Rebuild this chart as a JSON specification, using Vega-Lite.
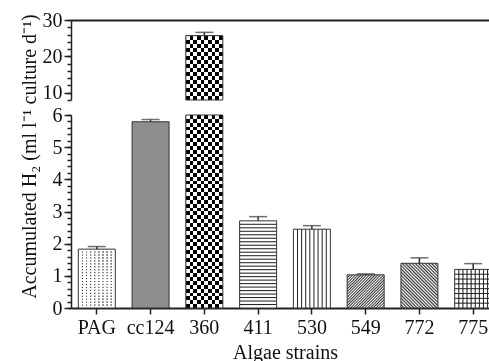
{
  "$schema": "https://vega.github.io/schema/vega-lite/v6.json",
  "autosize": {"type": "pad"},
  "padding": {"left": 18, "top": 10, "right": 0, "bottom": 0},
  "background": "white",
  "datasets": {
    "bars": [
      {"strain": "PAG", "value": 1.83, "upper": 1.91},
      {"strain": "cc124", "value": 5.79, "upper": 5.86},
      {"strain": "360", "value": 25.7, "upper": 26.6},
      {"strain": "411", "value": 2.71, "upper": 2.84},
      {"strain": "530", "value": 2.45, "upper": 2.56},
      {"strain": "549", "value": 1.03, "upper": 1.06},
      {"strain": "772", "value": 1.39, "upper": 1.56},
      {"strain": "775", "value": 1.2, "upper": 1.38}
    ],
    "caps": [
      {"strain": "PAG", "value": 1.91},
      {"strain": "cc124", "value": 5.86},
      {"strain": "360", "value": 26.6},
      {"strain": "411", "value": 2.84},
      {"strain": "530", "value": 2.56},
      {"strain": "549", "value": 1.06},
      {"strain": "772", "value": 1.56},
      {"strain": "775", "value": 1.38}
    ]
  },
  "data": {"name": "bars"},
  "spacing": 15,
  "bounds": "flush",
  "vconcat": [
    {
      "width": 428,
      "height": 80,
      "resolve": {"axis": {"y": "independent"}},
      "encoding": {
        "x": {"field": "strain", "type": "nominal", "sort": null,
          "scale": {"domain": ["PAG","cc124","360","411","530","549","772","775"], "paddingInner": 0.312, "paddingOuter": 0.136},
          "axis": {"orient": "top", "labels": false, "ticks": false, "title": null, "domainWidth": 2}},
        "y": {"field": "value", "type": "quantitative",
          "scale": {"domain": [8, 30], "clamp": true, "nice": false, "zero": false}, "axis": null}
      },
      "layer": [
        {"transform": [{"filter": "datum.value > 8"}],
          "mark": {"type": "bar", "fill": {"gradient": "linear", "x1": 0, "y1": 0, "x2": 1, "y2": 0, "stops": [
          {"offset":0,"color":"#000"},{"offset":0.1,"color":"#000"},{"offset":0.1,"color":"#fff"},{"offset":0.2,"color":"#fff"},
          {"offset":0.2,"color":"#000"},{"offset":0.3,"color":"#000"},{"offset":0.3,"color":"#fff"},{"offset":0.4,"color":"#fff"},
          {"offset":0.4,"color":"#000"},{"offset":0.5,"color":"#000"},{"offset":0.5,"color":"#fff"},{"offset":0.6,"color":"#fff"},
          {"offset":0.6,"color":"#000"},{"offset":0.7,"color":"#000"},{"offset":0.7,"color":"#fff"},{"offset":0.8,"color":"#fff"},
          {"offset":0.8,"color":"#000"},{"offset":0.9,"color":"#000"},{"offset":0.9,"color":"#fff"},{"offset":1,"color":"#fff"}]}},
          "encoding": {"y": {"field": "value", "type": "quantitative",
            "scale": {"domain": [8, 30], "clamp": true, "nice": false, "zero": false},
            "axis": {"title": null, "orient": "left", "tickCount": 2, "format": "d", "tickSize": 7, "grid": false, "labelPadding": 2, "labelFlush": false}}}},
        {"transform": [{"filter": "datum.value > 8"}],
          "mark": {"type": "bar", "blend": "difference", "fill": {"gradient": "linear", "x1": 0, "y1": 0, "x2": 0, "y2": 1, "stops": [
          {"offset":0,"color":"#fff"},{"offset":0.0625,"color":"#fff"},{"offset":0.0625,"color":"rgba(255,255,255,0)"},{"offset":0.125,"color":"rgba(255,255,255,0)"},
          {"offset":0.125,"color":"#fff"},{"offset":0.1875,"color":"#fff"},{"offset":0.1875,"color":"rgba(255,255,255,0)"},{"offset":0.25,"color":"rgba(255,255,255,0)"},
          {"offset":0.25,"color":"#fff"},{"offset":0.3125,"color":"#fff"},{"offset":0.3125,"color":"rgba(255,255,255,0)"},{"offset":0.375,"color":"rgba(255,255,255,0)"},
          {"offset":0.375,"color":"#fff"},{"offset":0.4375,"color":"#fff"},{"offset":0.4375,"color":"rgba(255,255,255,0)"},{"offset":0.5,"color":"rgba(255,255,255,0)"},
          {"offset":0.5,"color":"#fff"},{"offset":0.5625,"color":"#fff"},{"offset":0.5625,"color":"rgba(255,255,255,0)"},{"offset":0.625,"color":"rgba(255,255,255,0)"},
          {"offset":0.625,"color":"#fff"},{"offset":0.6875,"color":"#fff"},{"offset":0.6875,"color":"rgba(255,255,255,0)"},{"offset":0.75,"color":"rgba(255,255,255,0)"},
          {"offset":0.75,"color":"#fff"},{"offset":0.8125,"color":"#fff"},{"offset":0.8125,"color":"rgba(255,255,255,0)"},{"offset":0.875,"color":"rgba(255,255,255,0)"},
          {"offset":0.875,"color":"#fff"},{"offset":0.9375,"color":"#fff"},{"offset":0.9375,"color":"rgba(255,255,255,0)"},{"offset":1,"color":"rgba(255,255,255,0)"}]}}},
        {"transform": [{"filter": "datum.value > 8"}],
          "mark": {"type": "bar", "fillOpacity": 0, "stroke": "#333", "strokeWidth": 1}},
        {"transform": [{"filter": "datum.value > 8"}],
          "mark": {"type": "rule", "color": "#333", "strokeWidth": 1.5}, "encoding": {"y2": {"field": "upper"}}},
        {"data": {"name": "caps"}, "transform": [{"filter": "datum.value > 8"}],
          "mark": {"type": "tick", "color": "#333", "size": 18, "thickness": 1.5},
          "encoding": {"y": {"field": "value", "type": "quantitative",
            "scale": {"domain": [8, 30], "clamp": true, "nice": false, "zero": false},
            "axis": {"title": null, "orient": "left", "tickCount": 11, "labels": false, "domain": false, "tickSize": 4, "grid": false}}}}
      ]
    },
    {
      "width": 428,
      "height": 193,
      "resolve": {"axis": {"y": "independent"}},
      "encoding": {
        "x": {"field": "strain", "type": "nominal", "sort": null,
          "scale": {"domain": ["PAG","cc124","360","411","530","549","772","775"], "paddingInner": 0.312, "paddingOuter": 0.136},
          "axis": {"title": "Algae strains", "labelAngle": 0, "tickSize": 6, "labelPadding": 3, "titlePadding": 5, "domainWidth": 2}},
        "y": {"field": "value", "type": "quantitative",
          "scale": {"domain": [0, 6], "clamp": true, "nice": false}, "axis": null}
      },
      "layer": [
        {"mark": {"type": "bar"},
          "encoding": {
            "y": {"field": "value", "type": "quantitative",
              "scale": {"domain": [0, 6], "clamp": true, "nice": false},
              "axis": {"title": "Accumulated H₂ (ml l⁻¹ culture d⁻¹)", "orient": "left", "tickCount": 6, "format": "d",
                "tickSize": 7, "grid": false, "labelPadding": 2, "labelFlush": false,
                "titleX": -42, "titleY": 41, "titleBaseline": "middle", "titleAngle": -90}},
            "fill": {"condition": [
            {"test": "datum.strain === 'PAG'", "value": {"gradient": "linear", "x1": 0, "y1": 0, "x2": 1, "y2": 0, "stops": [
              {"offset":0,"color":"#fff"},
              {"offset":0.0841,"color":"#fff"},{"offset":0.1111,"color":"#222"},{"offset":0.1381,"color":"#fff"},
              {"offset":0.1952,"color":"#fff"},{"offset":0.2222,"color":"#222"},{"offset":0.2492,"color":"#fff"},
              {"offset":0.3063,"color":"#fff"},{"offset":0.3333,"color":"#222"},{"offset":0.3603,"color":"#fff"},
              {"offset":0.4174,"color":"#fff"},{"offset":0.4444,"color":"#222"},{"offset":0.4714,"color":"#fff"},
              {"offset":0.5286,"color":"#fff"},{"offset":0.5556,"color":"#222"},{"offset":0.5826,"color":"#fff"},
              {"offset":0.6397,"color":"#fff"},{"offset":0.6667,"color":"#222"},{"offset":0.6937,"color":"#fff"},
              {"offset":0.7508,"color":"#fff"},{"offset":0.7778,"color":"#222"},{"offset":0.8048,"color":"#fff"},
              {"offset":0.8619,"color":"#fff"},{"offset":0.8889,"color":"#222"},{"offset":0.9159,"color":"#fff"},
              {"offset":1,"color":"#fff"}]}},
            {"test": "datum.strain === 'cc124'", "value": "#8e8e8e"},
            {"test": "datum.strain === '360'", "value": {"gradient": "linear", "x1": 0, "y1": 0, "x2": 1, "y2": 0, "stops": [
              {"offset":0,"color":"#000"},{"offset":0.1,"color":"#000"},{"offset":0.1,"color":"#fff"},{"offset":0.2,"color":"#fff"},
              {"offset":0.2,"color":"#000"},{"offset":0.3,"color":"#000"},{"offset":0.3,"color":"#fff"},{"offset":0.4,"color":"#fff"},
              {"offset":0.4,"color":"#000"},{"offset":0.5,"color":"#000"},{"offset":0.5,"color":"#fff"},{"offset":0.6,"color":"#fff"},
              {"offset":0.6,"color":"#000"},{"offset":0.7,"color":"#000"},{"offset":0.7,"color":"#fff"},{"offset":0.8,"color":"#fff"},
              {"offset":0.8,"color":"#000"},{"offset":0.9,"color":"#000"},{"offset":0.9,"color":"#fff"},{"offset":1,"color":"#fff"}]}},
            {"test": "datum.strain === '411'", "value": {"gradient": "linear", "x1": 0, "y1": 0, "x2": 0, "y2": 1, "stops": [
              {"offset":0,"color":"#fff"},
              {"offset":0.028,"color":"#fff"},{"offset":0.04,"color":"#222"},{"offset":0.052,"color":"#fff"},
              {"offset":0.068,"color":"#fff"},{"offset":0.08,"color":"#222"},{"offset":0.092,"color":"#fff"},
              {"offset":0.108,"color":"#fff"},{"offset":0.12,"color":"#222"},{"offset":0.132,"color":"#fff"},
              {"offset":0.148,"color":"#fff"},{"offset":0.16,"color":"#222"},{"offset":0.172,"color":"#fff"},
              {"offset":0.188,"color":"#fff"},{"offset":0.2,"color":"#222"},{"offset":0.212,"color":"#fff"},
              {"offset":0.228,"color":"#fff"},{"offset":0.24,"color":"#222"},{"offset":0.252,"color":"#fff"},
              {"offset":0.268,"color":"#fff"},{"offset":0.28,"color":"#222"},{"offset":0.292,"color":"#fff"},
              {"offset":0.308,"color":"#fff"},{"offset":0.32,"color":"#222"},{"offset":0.332,"color":"#fff"},
              {"offset":0.348,"color":"#fff"},{"offset":0.36,"color":"#222"},{"offset":0.372,"color":"#fff"},
              {"offset":0.388,"color":"#fff"},{"offset":0.4,"color":"#222"},{"offset":0.412,"color":"#fff"},
              {"offset":0.428,"color":"#fff"},{"offset":0.44,"color":"#222"},{"offset":0.452,"color":"#fff"},
              {"offset":0.468,"color":"#fff"},{"offset":0.48,"color":"#222"},{"offset":0.492,"color":"#fff"},
              {"offset":0.508,"color":"#fff"},{"offset":0.52,"color":"#222"},{"offset":0.532,"color":"#fff"},
              {"offset":0.548,"color":"#fff"},{"offset":0.56,"color":"#222"},{"offset":0.572,"color":"#fff"},
              {"offset":0.588,"color":"#fff"},{"offset":0.6,"color":"#222"},{"offset":0.612,"color":"#fff"},
              {"offset":0.628,"color":"#fff"},{"offset":0.64,"color":"#222"},{"offset":0.652,"color":"#fff"},
              {"offset":0.668,"color":"#fff"},{"offset":0.68,"color":"#222"},{"offset":0.692,"color":"#fff"},
              {"offset":0.708,"color":"#fff"},{"offset":0.72,"color":"#222"},{"offset":0.732,"color":"#fff"},
              {"offset":0.748,"color":"#fff"},{"offset":0.76,"color":"#222"},{"offset":0.772,"color":"#fff"},
              {"offset":0.788,"color":"#fff"},{"offset":0.8,"color":"#222"},{"offset":0.812,"color":"#fff"},
              {"offset":0.828,"color":"#fff"},{"offset":0.84,"color":"#222"},{"offset":0.852,"color":"#fff"},
              {"offset":0.868,"color":"#fff"},{"offset":0.88,"color":"#222"},{"offset":0.892,"color":"#fff"},
              {"offset":0.908,"color":"#fff"},{"offset":0.92,"color":"#222"},{"offset":0.932,"color":"#fff"},
              {"offset":0.948,"color":"#fff"},{"offset":0.96,"color":"#222"},{"offset":0.972,"color":"#fff"},
              {"offset":1,"color":"#fff"}]}},
            {"test": "datum.strain === '530'", "value": {"gradient": "linear", "x1": 0, "y1": 0, "x2": 1, "y2": 0, "stops": [
              {"offset":0,"color":"#fff"},
              {"offset":0.0841,"color":"#fff"},{"offset":0.1111,"color":"#222"},{"offset":0.1381,"color":"#fff"},
              {"offset":0.1952,"color":"#fff"},{"offset":0.2222,"color":"#222"},{"offset":0.2492,"color":"#fff"},
              {"offset":0.3063,"color":"#fff"},{"offset":0.3333,"color":"#222"},{"offset":0.3603,"color":"#fff"},
              {"offset":0.4174,"color":"#fff"},{"offset":0.4444,"color":"#222"},{"offset":0.4714,"color":"#fff"},
              {"offset":0.5286,"color":"#fff"},{"offset":0.5556,"color":"#222"},{"offset":0.5826,"color":"#fff"},
              {"offset":0.6397,"color":"#fff"},{"offset":0.6667,"color":"#222"},{"offset":0.6937,"color":"#fff"},
              {"offset":0.7508,"color":"#fff"},{"offset":0.7778,"color":"#222"},{"offset":0.8048,"color":"#fff"},
              {"offset":0.8619,"color":"#fff"},{"offset":0.8889,"color":"#222"},{"offset":0.9159,"color":"#fff"},
              {"offset":1,"color":"#fff"}]}},
            {"test": "datum.strain === '549'", "value": {"gradient": "linear", "x1": 0, "y1": 0, "x2": 1.054, "y2": 0.94, "stops": [
              {"offset":0,"color":"#333"},{"offset":0.02,"color":"#fff"},{"offset":0.04,"color":"#333"},{"offset":0.06,"color":"#fff"},
              {"offset":0.08,"color":"#333"},{"offset":0.1,"color":"#fff"},{"offset":0.12,"color":"#333"},{"offset":0.14,"color":"#fff"},
              {"offset":0.16,"color":"#333"},{"offset":0.18,"color":"#fff"},{"offset":0.2,"color":"#333"},{"offset":0.22,"color":"#fff"},
              {"offset":0.24,"color":"#333"},{"offset":0.26,"color":"#fff"},{"offset":0.28,"color":"#333"},{"offset":0.3,"color":"#fff"},
              {"offset":0.32,"color":"#333"},{"offset":0.34,"color":"#fff"},{"offset":0.36,"color":"#333"},{"offset":0.38,"color":"#fff"},
              {"offset":0.4,"color":"#333"},{"offset":0.42,"color":"#fff"},{"offset":0.44,"color":"#333"},{"offset":0.46,"color":"#fff"},
              {"offset":0.48,"color":"#333"},{"offset":0.5,"color":"#fff"},{"offset":0.52,"color":"#333"},{"offset":0.54,"color":"#fff"},
              {"offset":0.56,"color":"#333"},{"offset":0.58,"color":"#fff"},{"offset":0.6,"color":"#333"},{"offset":0.62,"color":"#fff"},
              {"offset":0.64,"color":"#333"},{"offset":0.66,"color":"#fff"},{"offset":0.68,"color":"#333"},{"offset":0.7,"color":"#fff"},
              {"offset":0.72,"color":"#333"},{"offset":0.74,"color":"#fff"},{"offset":0.76,"color":"#333"},{"offset":0.78,"color":"#fff"},
              {"offset":0.8,"color":"#333"},{"offset":0.82,"color":"#fff"},{"offset":0.84,"color":"#333"},{"offset":0.86,"color":"#fff"},
              {"offset":0.88,"color":"#333"},{"offset":0.9,"color":"#fff"},{"offset":0.92,"color":"#333"},{"offset":0.94,"color":"#fff"},
              {"offset":0.96,"color":"#333"},{"offset":0.98,"color":"#fff"},{"offset":1,"color":"#333"}]}},
            {"test": "datum.strain === '772'", "value": {"gradient": "linear", "x1": 0, "y1": 1, "x2": 0.898, "y2": -0.085, "stops": [
              {"offset":0,"color":"#333"},{"offset":0.02,"color":"#fff"},{"offset":0.04,"color":"#333"},{"offset":0.06,"color":"#fff"},
              {"offset":0.08,"color":"#333"},{"offset":0.1,"color":"#fff"},{"offset":0.12,"color":"#333"},{"offset":0.14,"color":"#fff"},
              {"offset":0.16,"color":"#333"},{"offset":0.18,"color":"#fff"},{"offset":0.2,"color":"#333"},{"offset":0.22,"color":"#fff"},
              {"offset":0.24,"color":"#333"},{"offset":0.26,"color":"#fff"},{"offset":0.28,"color":"#333"},{"offset":0.3,"color":"#fff"},
              {"offset":0.32,"color":"#333"},{"offset":0.34,"color":"#fff"},{"offset":0.36,"color":"#333"},{"offset":0.38,"color":"#fff"},
              {"offset":0.4,"color":"#333"},{"offset":0.42,"color":"#fff"},{"offset":0.44,"color":"#333"},{"offset":0.46,"color":"#fff"},
              {"offset":0.48,"color":"#333"},{"offset":0.5,"color":"#fff"},{"offset":0.52,"color":"#333"},{"offset":0.54,"color":"#fff"},
              {"offset":0.56,"color":"#333"},{"offset":0.58,"color":"#fff"},{"offset":0.6,"color":"#333"},{"offset":0.62,"color":"#fff"},
              {"offset":0.64,"color":"#333"},{"offset":0.66,"color":"#fff"},{"offset":0.68,"color":"#333"},{"offset":0.7,"color":"#fff"},
              {"offset":0.72,"color":"#333"},{"offset":0.74,"color":"#fff"},{"offset":0.76,"color":"#333"},{"offset":0.78,"color":"#fff"},
              {"offset":0.8,"color":"#333"},{"offset":0.82,"color":"#fff"},{"offset":0.84,"color":"#333"},{"offset":0.86,"color":"#fff"},
              {"offset":0.88,"color":"#333"},{"offset":0.9,"color":"#fff"},{"offset":0.92,"color":"#333"},{"offset":0.94,"color":"#fff"},
              {"offset":0.96,"color":"#333"},{"offset":0.98,"color":"#fff"},{"offset":1,"color":"#333"}]}},
            {"test": "datum.strain === '775'", "value": {"gradient": "linear", "x1": 0, "y1": 0, "x2": 0, "y2": 1, "stops": [
              {"offset":0,"color":"#fff"},
              {"offset":0.099,"color":"#fff"},{"offset":0.125,"color":"#222"},{"offset":0.151,"color":"#fff"},
              {"offset":0.224,"color":"#fff"},{"offset":0.25,"color":"#222"},{"offset":0.276,"color":"#fff"},
              {"offset":0.349,"color":"#fff"},{"offset":0.375,"color":"#222"},{"offset":0.401,"color":"#fff"},
              {"offset":0.474,"color":"#fff"},{"offset":0.5,"color":"#222"},{"offset":0.526,"color":"#fff"},
              {"offset":0.599,"color":"#fff"},{"offset":0.625,"color":"#222"},{"offset":0.651,"color":"#fff"},
              {"offset":0.724,"color":"#fff"},{"offset":0.75,"color":"#222"},{"offset":0.776,"color":"#fff"},
              {"offset":0.849,"color":"#fff"},{"offset":0.875,"color":"#222"},{"offset":0.901,"color":"#fff"},
              {"offset":1,"color":"#fff"}]}}
          ], "value": "white"}}},
        {"transform": [{"filter": "datum.strain === '360'"}],
          "mark": {"type": "bar", "blend": "difference", "fill": {"gradient": "linear", "x1": 0, "y1": 0, "x2": 0, "y2": 1, "stops": [
            {"offset":0,"color":"#fff"},{"offset":0.02,"color":"#fff"},{"offset":0.02,"color":"rgba(255,255,255,0)"},{"offset":0.04,"color":"rgba(255,255,255,0)"},
            {"offset":0.04,"color":"#fff"},{"offset":0.06,"color":"#fff"},{"offset":0.06,"color":"rgba(255,255,255,0)"},{"offset":0.08,"color":"rgba(255,255,255,0)"},
            {"offset":0.08,"color":"#fff"},{"offset":0.1,"color":"#fff"},{"offset":0.1,"color":"rgba(255,255,255,0)"},{"offset":0.12,"color":"rgba(255,255,255,0)"},
            {"offset":0.12,"color":"#fff"},{"offset":0.14,"color":"#fff"},{"offset":0.14,"color":"rgba(255,255,255,0)"},{"offset":0.16,"color":"rgba(255,255,255,0)"},
            {"offset":0.16,"color":"#fff"},{"offset":0.18,"color":"#fff"},{"offset":0.18,"color":"rgba(255,255,255,0)"},{"offset":0.2,"color":"rgba(255,255,255,0)"},
            {"offset":0.2,"color":"#fff"},{"offset":0.22,"color":"#fff"},{"offset":0.22,"color":"rgba(255,255,255,0)"},{"offset":0.24,"color":"rgba(255,255,255,0)"},
            {"offset":0.24,"color":"#fff"},{"offset":0.26,"color":"#fff"},{"offset":0.26,"color":"rgba(255,255,255,0)"},{"offset":0.28,"color":"rgba(255,255,255,0)"},
            {"offset":0.28,"color":"#fff"},{"offset":0.3,"color":"#fff"},{"offset":0.3,"color":"rgba(255,255,255,0)"},{"offset":0.32,"color":"rgba(255,255,255,0)"},
            {"offset":0.32,"color":"#fff"},{"offset":0.34,"color":"#fff"},{"offset":0.34,"color":"rgba(255,255,255,0)"},{"offset":0.36,"color":"rgba(255,255,255,0)"},
            {"offset":0.36,"color":"#fff"},{"offset":0.38,"color":"#fff"},{"offset":0.38,"color":"rgba(255,255,255,0)"},{"offset":0.4,"color":"rgba(255,255,255,0)"},
            {"offset":0.4,"color":"#fff"},{"offset":0.42,"color":"#fff"},{"offset":0.42,"color":"rgba(255,255,255,0)"},{"offset":0.44,"color":"rgba(255,255,255,0)"},
            {"offset":0.44,"color":"#fff"},{"offset":0.46,"color":"#fff"},{"offset":0.46,"color":"rgba(255,255,255,0)"},{"offset":0.48,"color":"rgba(255,255,255,0)"},
            {"offset":0.48,"color":"#fff"},{"offset":0.5,"color":"#fff"},{"offset":0.5,"color":"rgba(255,255,255,0)"},{"offset":0.52,"color":"rgba(255,255,255,0)"},
            {"offset":0.52,"color":"#fff"},{"offset":0.54,"color":"#fff"},{"offset":0.54,"color":"rgba(255,255,255,0)"},{"offset":0.56,"color":"rgba(255,255,255,0)"},
            {"offset":0.56,"color":"#fff"},{"offset":0.58,"color":"#fff"},{"offset":0.58,"color":"rgba(255,255,255,0)"},{"offset":0.6,"color":"rgba(255,255,255,0)"},
            {"offset":0.6,"color":"#fff"},{"offset":0.62,"color":"#fff"},{"offset":0.62,"color":"rgba(255,255,255,0)"},{"offset":0.64,"color":"rgba(255,255,255,0)"},
            {"offset":0.64,"color":"#fff"},{"offset":0.66,"color":"#fff"},{"offset":0.66,"color":"rgba(255,255,255,0)"},{"offset":0.68,"color":"rgba(255,255,255,0)"},
            {"offset":0.68,"color":"#fff"},{"offset":0.7,"color":"#fff"},{"offset":0.7,"color":"rgba(255,255,255,0)"},{"offset":0.72,"color":"rgba(255,255,255,0)"},
            {"offset":0.72,"color":"#fff"},{"offset":0.74,"color":"#fff"},{"offset":0.74,"color":"rgba(255,255,255,0)"},{"offset":0.76,"color":"rgba(255,255,255,0)"},
            {"offset":0.76,"color":"#fff"},{"offset":0.78,"color":"#fff"},{"offset":0.78,"color":"rgba(255,255,255,0)"},{"offset":0.8,"color":"rgba(255,255,255,0)"},
            {"offset":0.8,"color":"#fff"},{"offset":0.82,"color":"#fff"},{"offset":0.82,"color":"rgba(255,255,255,0)"},{"offset":0.84,"color":"rgba(255,255,255,0)"},
            {"offset":0.84,"color":"#fff"},{"offset":0.86,"color":"#fff"},{"offset":0.86,"color":"rgba(255,255,255,0)"},{"offset":0.88,"color":"rgba(255,255,255,0)"},
            {"offset":0.88,"color":"#fff"},{"offset":0.9,"color":"#fff"},{"offset":0.9,"color":"rgba(255,255,255,0)"},{"offset":0.92,"color":"rgba(255,255,255,0)"},
            {"offset":0.92,"color":"#fff"},{"offset":0.94,"color":"#fff"},{"offset":0.94,"color":"rgba(255,255,255,0)"},{"offset":0.96,"color":"rgba(255,255,255,0)"},
            {"offset":0.96,"color":"#fff"},{"offset":0.98,"color":"#fff"},{"offset":0.98,"color":"rgba(255,255,255,0)"},{"offset":1,"color":"rgba(255,255,255,0)"}]}}},
        {"transform": [{"filter": "datum.strain === 'PAG'"}],
          "mark": {"type": "bar", "blend": "lighten", "fill": {"gradient": "linear", "x1": 0, "y1": 0, "x2": 0, "y2": 1, "stops": [
            {"offset":0,"color":"#fff"},
            {"offset":0.033,"color":"#fff"},{"offset":0.05,"color":"#222"},{"offset":0.067,"color":"#fff"},
            {"offset":0.083,"color":"#fff"},{"offset":0.1,"color":"#222"},{"offset":0.117,"color":"#fff"},
            {"offset":0.133,"color":"#fff"},{"offset":0.15,"color":"#222"},{"offset":0.167,"color":"#fff"},
            {"offset":0.183,"color":"#fff"},{"offset":0.2,"color":"#222"},{"offset":0.217,"color":"#fff"},
            {"offset":0.233,"color":"#fff"},{"offset":0.25,"color":"#222"},{"offset":0.267,"color":"#fff"},
            {"offset":0.283,"color":"#fff"},{"offset":0.3,"color":"#222"},{"offset":0.317,"color":"#fff"},
            {"offset":0.333,"color":"#fff"},{"offset":0.35,"color":"#222"},{"offset":0.367,"color":"#fff"},
            {"offset":0.383,"color":"#fff"},{"offset":0.4,"color":"#222"},{"offset":0.417,"color":"#fff"},
            {"offset":0.433,"color":"#fff"},{"offset":0.45,"color":"#222"},{"offset":0.467,"color":"#fff"},
            {"offset":0.483,"color":"#fff"},{"offset":0.5,"color":"#222"},{"offset":0.517,"color":"#fff"},
            {"offset":0.533,"color":"#fff"},{"offset":0.55,"color":"#222"},{"offset":0.567,"color":"#fff"},
            {"offset":0.583,"color":"#fff"},{"offset":0.6,"color":"#222"},{"offset":0.617,"color":"#fff"},
            {"offset":0.633,"color":"#fff"},{"offset":0.65,"color":"#222"},{"offset":0.667,"color":"#fff"},
            {"offset":0.683,"color":"#fff"},{"offset":0.7,"color":"#222"},{"offset":0.717,"color":"#fff"},
            {"offset":0.733,"color":"#fff"},{"offset":0.75,"color":"#222"},{"offset":0.767,"color":"#fff"},
            {"offset":0.783,"color":"#fff"},{"offset":0.8,"color":"#222"},{"offset":0.817,"color":"#fff"},
            {"offset":0.833,"color":"#fff"},{"offset":0.85,"color":"#222"},{"offset":0.867,"color":"#fff"},
            {"offset":0.883,"color":"#fff"},{"offset":0.9,"color":"#222"},{"offset":0.917,"color":"#fff"},
            {"offset":0.933,"color":"#fff"},{"offset":0.95,"color":"#222"},{"offset":0.967,"color":"#fff"},
            {"offset":1,"color":"#fff"}]}}},
        {"transform": [{"filter": "datum.strain === '775'"}],
          "mark": {"type": "bar", "fill": {"gradient": "linear", "x1": 0, "y1": 0, "x2": 1, "y2": 0, "stops": [
            {"offset":0,"color":"rgba(0,0,0,0)"},
            {"offset":0.0841,"color":"rgba(0,0,0,0)"},{"offset":0.1111,"color":"#222"},{"offset":0.1381,"color":"rgba(0,0,0,0)"},
            {"offset":0.1952,"color":"rgba(0,0,0,0)"},{"offset":0.2222,"color":"#222"},{"offset":0.2492,"color":"rgba(0,0,0,0)"},
            {"offset":0.3063,"color":"rgba(0,0,0,0)"},{"offset":0.3333,"color":"#222"},{"offset":0.3603,"color":"rgba(0,0,0,0)"},
            {"offset":0.4174,"color":"rgba(0,0,0,0)"},{"offset":0.4444,"color":"#222"},{"offset":0.4714,"color":"rgba(0,0,0,0)"},
            {"offset":0.5286,"color":"rgba(0,0,0,0)"},{"offset":0.5556,"color":"#222"},{"offset":0.5826,"color":"rgba(0,0,0,0)"},
            {"offset":0.6397,"color":"rgba(0,0,0,0)"},{"offset":0.6667,"color":"#222"},{"offset":0.6937,"color":"rgba(0,0,0,0)"},
            {"offset":0.7508,"color":"rgba(0,0,0,0)"},{"offset":0.7778,"color":"#222"},{"offset":0.8048,"color":"rgba(0,0,0,0)"},
            {"offset":0.8619,"color":"rgba(0,0,0,0)"},{"offset":0.8889,"color":"#222"},{"offset":0.9159,"color":"rgba(0,0,0,0)"},
            {"offset":1,"color":"rgba(0,0,0,0)"}]}}},
        {"mark": {"type": "bar", "fillOpacity": 0, "stroke": "#333", "strokeWidth": 1}},
        {"transform": [{"filter": "datum.upper < 6"}],
          "mark": {"type": "rule", "color": "#333", "strokeWidth": 1.5},
          "encoding": {"y2": {"field": "upper"}}},
        {"data": {"name": "caps"}, "transform": [{"filter": "datum.value < 6"}],
          "mark": {"type": "tick", "color": "#333", "size": 18, "thickness": 1.5},
          "encoding": {"y": {"field": "value", "type": "quantitative",
            "scale": {"domain": [0, 6], "clamp": true, "nice": false},
            "axis": {"title": null, "orient": "left", "tickCount": 30, "labels": false, "domain": false, "tickSize": 4, "grid": false}}}}
      ]
    }
  ],
  "config": {
    "font": "Liberation Serif",
    "view": {"stroke": null},
    "axis": {
      "labelFont": "Liberation Serif", "labelFontSize": 20, "labelColor": "#111",
      "titleFont": "Liberation Serif", "titleFontSize": 20, "titleFontWeight": "normal", "titleColor": "#111",
      "domainColor": "#222", "tickColor": "#222", "domainWidth": 1.5, "tickWidth": 1.5
    }
  }
}
